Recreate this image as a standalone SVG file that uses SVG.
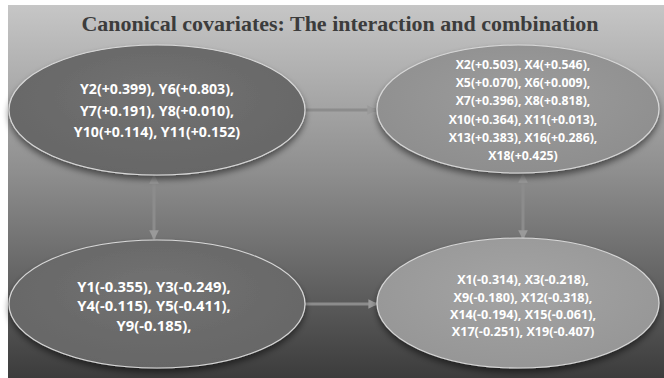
<svg xmlns="http://www.w3.org/2000/svg" width="664" height="378" viewBox="0 0 664 378">
<defs>
<linearGradient id="bg" x1="0" y1="0" x2="0" y2="1">
<stop offset="0" stop-color="#c6c6c6"/>
<stop offset="0.45" stop-color="#8e8e8e"/>
<stop offset="1" stop-color="#3c3c3c"/>
</linearGradient>
<radialGradient id="gDark" cx="0.5" cy="0.4" r="0.6">
<stop offset="0" stop-color="#727272"/>
<stop offset="1" stop-color="#666666"/>
</radialGradient>
<radialGradient id="gLight" cx="0.5" cy="0.4" r="0.6">
<stop offset="0" stop-color="#9c9c9c"/>
<stop offset="1" stop-color="#8e8e8e"/>
</radialGradient>
<radialGradient id="gLight2" cx="0.5" cy="0.4" r="0.6">
<stop offset="0" stop-color="#a4a4a4"/>
<stop offset="1" stop-color="#969696"/>
</radialGradient>
<filter id="sh" x="-10%" y="-10%" width="120%" height="130%">
<feGaussianBlur in="SourceAlpha" stdDeviation="3"/>
<feOffset dx="0" dy="4" result="b"/>
<feComponentTransfer><feFuncA type="linear" slope="0.5"/></feComponentTransfer>
<feMerge><feMergeNode/><feMergeNode in="SourceGraphic"/></feMerge>
</filter>
<marker id="ah" viewBox="0 0 10 10" refX="9" refY="5" markerWidth="3.2" markerHeight="3.2" orient="auto-start-reverse">
<path d="M0,0 L10,5 L0,10 z" fill="#9a9a9a"/>
</marker>
<style>
.node{stroke:#d8d8d8;stroke-width:1.2;filter:url(#sh)}
.t{font-family:"Open Sans",Lato,sans-serif;font-weight:bold;fill:#ffffff;text-anchor:middle}
.conn{stroke:#8c8c8c;stroke-width:3;fill:none}
</style>
</defs>
<rect x="0" y="0" width="664" height="378" fill="#ffffff"/>
<rect x="8" y="5" width="656" height="373" fill="url(#bg)"/>
<text x="340" y="31" font-family="Liberation Serif,serif" font-weight="bold" font-size="22" fill="#3c3c3c" text-anchor="middle">Canonical covariates: The interaction and combination</text>
<g id="connectors">
<line class="conn" x1="305" y1="110" x2="376" y2="110" marker-end="url(#ah)"/>
<line class="conn" x1="305" y1="304" x2="377" y2="304" marker-end="url(#ah)"/>
<line class="conn" x1="154" y1="175" x2="154" y2="239" marker-start="url(#ah)" marker-end="url(#ah)"/>
<line class="conn" x1="523" y1="174" x2="523" y2="239" marker-start="url(#ah)" marker-end="url(#ah)"/>
</g>
<g id="node-y-pos">
<ellipse class="node" cx="157" cy="110" rx="148" ry="65" fill="url(#gDark)"/>
<text class="t" font-size="14.2"><tspan x="157" y="94">Y2(+0.399), Y6(+0.803),</tspan><tspan x="157" y="116">Y7(+0.191), Y8(+0.010),</tspan><tspan x="157" y="137">Y10(+0.114), Y11(+0.152)</tspan></text>
</g>
<g id="node-x-pos">
<ellipse class="node" cx="518" cy="109" rx="141" ry="64" fill="url(#gLight)"/>
<text class="t" font-size="12.3"><tspan x="523" y="69">X2(+0.503), X4(+0.546),</tspan><tspan x="523" y="87">X5(+0.070), X6(+0.009),</tspan><tspan x="523" y="105">X7(+0.396), X8(+0.818),</tspan><tspan x="523" y="124">X10(+0.364), X11(+0.013),</tspan><tspan x="523" y="142">X13(+0.383), X16(+0.286),</tspan><tspan x="523" y="160">X18(+0.425)</tspan></text>
</g>
<g id="node-y-neg">
<ellipse class="node" cx="157" cy="304" rx="148" ry="64" fill="url(#gDark)"/>
<text class="t" font-size="14.8"><tspan x="154" y="292">Y1(-0.355), Y3(-0.249),</tspan><tspan x="154" y="311">Y4(-0.115), Y5(-0.411),</tspan><tspan x="154" y="331">Y9(-0.185),</tspan></text>
</g>
<g id="node-x-neg">
<ellipse class="node" cx="518" cy="303" rx="141" ry="65" fill="url(#gLight2)"/>
<text class="t" font-size="12.6"><tspan x="523" y="284">X1(-0.314), X3(-0.218),</tspan><tspan x="523" y="302">X9(-0.180), X12(-0.318),</tspan><tspan x="523" y="319">X14(-0.194), X15(-0.061),</tspan><tspan x="523" y="336">X17(-0.251), X19(-0.407)</tspan></text>
</g>
</svg>
